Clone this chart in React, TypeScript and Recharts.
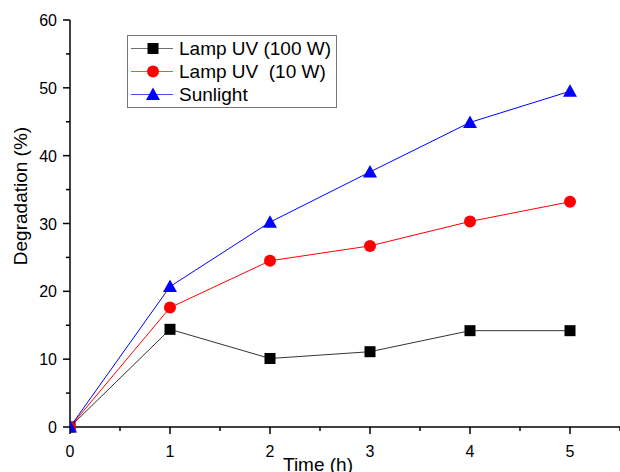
import React from "react";
import { LineChart, Line, XAxis, YAxis } from "recharts";

const times = [0, 1, 2, 3, 4, 5];
const lamp100 = [0, 14.4, 10.1, 11.1, 14.2, 14.2];
const lamp10 = [0, 17.6, 24.5, 26.7, 30.3, 33.2];
const sunlight = [0, 20.7, 30.2, 37.6, 44.9, 49.5];

const xTicks = [0, 0.5, 1, 1.5, 2, 2.5, 3, 3.5, 4, 4.5, 5, 5.5];
const yTicks = [0, 5, 10, 15, 20, 25, 30, 35, 40, 45, 50, 55, 60];

const seriesNames = ["Lamp UV (100 W)", "Lamp UV  (10 W)", "Sunlight"];

const data = times.map((t, i) => ({
  t,
  lamp100: lamp100[i],
  lamp10: lamp10[i],
  sunlight: sunlight[i],
}));

const FONT = "Arial, 'Liberation Sans', Helvetica, sans-serif";

type Shape = "square" | "circle" | "triangle";

function Marker({ shape, cx, cy, color }: { shape: Shape; cx: number; cy: number; color: string }) {
  if (shape === "square") {
    return <rect x={cx - 5.5} y={cy - 5.5} width={11} height={11} fill={color} />;
  }
  if (shape === "circle") {
    return <circle cx={cx} cy={cy} r={6} fill={color} />;
  }
  return (
    <polygon
      points={`${cx},${cy - 7} ${cx - 7},${cy + 5.5} ${cx + 7},${cy + 5.5}`}
      fill={color}
    />
  );
}

const makeDot = (shape: Shape, color: string) => (props: any) => {
  const { cx, cy, index } = props;
  return <Marker key={`${shape}-${index}`} shape={shape} cx={cx} cy={cy} color={color} />;
};

const series = [
  { key: "lamp100", name: seriesNames[0], line: "#333333", marker: "#000000", shape: "square" as Shape },
  { key: "lamp10", name: seriesNames[1], line: "#ff0000", marker: "#ff0000", shape: "circle" as Shape },
  { key: "sunlight", name: seriesNames[2], line: "#0000ff", marker: "#0000ff", shape: "triangle" as Shape },
];

const XTick = (props: any) => {
  const { x, y, payload } = props;
  const major = Number.isInteger(payload.value);
  return (
    <g>
      <line x1={x} y1={y} x2={x} y2={y + (major ? 7 : 4)} stroke="#000" strokeWidth={1.5} />
      {major && (
        <text x={x} y={y + 30} textAnchor="middle" fontSize={16} fontFamily={FONT} fill="#000">
          {payload.value}
        </text>
      )}
    </g>
  );
};

const YTick = (props: any) => {
  const { x, y, payload } = props;
  const major = payload.value % 10 === 0;
  return (
    <g>
      <line x1={x} y1={y} x2={x - (major ? 7 : 4)} y2={y} stroke="#000" strokeWidth={1.5} />
      {major && (
        <text x={x - 13} y={y + 6} textAnchor="end" fontSize={16} fontFamily={FONT} fill="#000">
          {payload.value}
        </text>
      )}
    </g>
  );
};

// legend box sits over the plot's upper-left corner
const LegendBox = () => (
  <div
    style={{
      position: "absolute",
      left: 127,
      top: 35,
      border: "1px solid #777",
      background: "#fff",
      width: 208,
      padding: "1px 0 1px 0",
      fontFamily: FONT,
      fontSize: 19,
      lineHeight: "23px",
    }}
  >
    {series.map((s) => (
      <div key={s.key} style={{ display: "flex", alignItems: "center", height: 23 }}>
        <svg width={51} height={23} style={{ flex: "none" }}>
          <line x1={3} y1={11.5} x2={45} y2={11.5} stroke={s.line} strokeWidth={1} opacity={0.7} />
          <Marker shape={s.shape} cx={25} cy={11.5} color={s.marker} />
        </svg>
        <span style={{ whiteSpace: "pre", color: "#000" }}>{s.name}</span>
      </div>
    ))}
  </div>
);

export default function App() {
  return (
    <div style={{ position: "absolute", left: 0, top: 0, width: 620, height: 472, background: "#fff" }}>
      <LineChart width={620} height={472} data={data} margin={{ top: 20, right: 0, bottom: 0, left: 0 }}>
        <XAxis
          dataKey="t"
          type="number"
          domain={[0, 5.5]}
          ticks={xTicks}
          interval={0}
          allowDataOverflow
          height={45}
          tickSize={0}
          tickMargin={0}
          tickLine={false}
          axisLine={{ stroke: "#000", strokeWidth: 1.5 }}
          tick={<XTick />}
          label={() => (
            <text x={318} y={471} textAnchor="middle" fontSize={19} fontFamily={FONT} fill="#000">
              Time (h)
            </text>
          )}
        />
        <YAxis
          type="number"
          domain={[0, 60]}
          ticks={yTicks}
          interval={0}
          width={70}
          tickSize={0}
          tickMargin={0}
          tickLine={false}
          axisLine={{ stroke: "#000", strokeWidth: 1.5 }}
          tick={<YTick />}
          label={() => (
            <text
              x={27}
              y={196}
              textAnchor="middle"
              fontSize={19}
              fontFamily={FONT}
              fill="#000"
              transform="rotate(-90 27 196)"
            >
              Degradation (%)
            </text>
          )}
        />
        {series.map((s) => (
          <Line
            key={s.key}
            dataKey={s.key}
            name={s.name}
            stroke={s.line}
            strokeWidth={1}
            dot={makeDot(s.shape, s.marker)}
            activeDot={false}
            isAnimationActive={false}
          />
        ))}
      </LineChart>
      <LegendBox />
    </div>
  );
}
